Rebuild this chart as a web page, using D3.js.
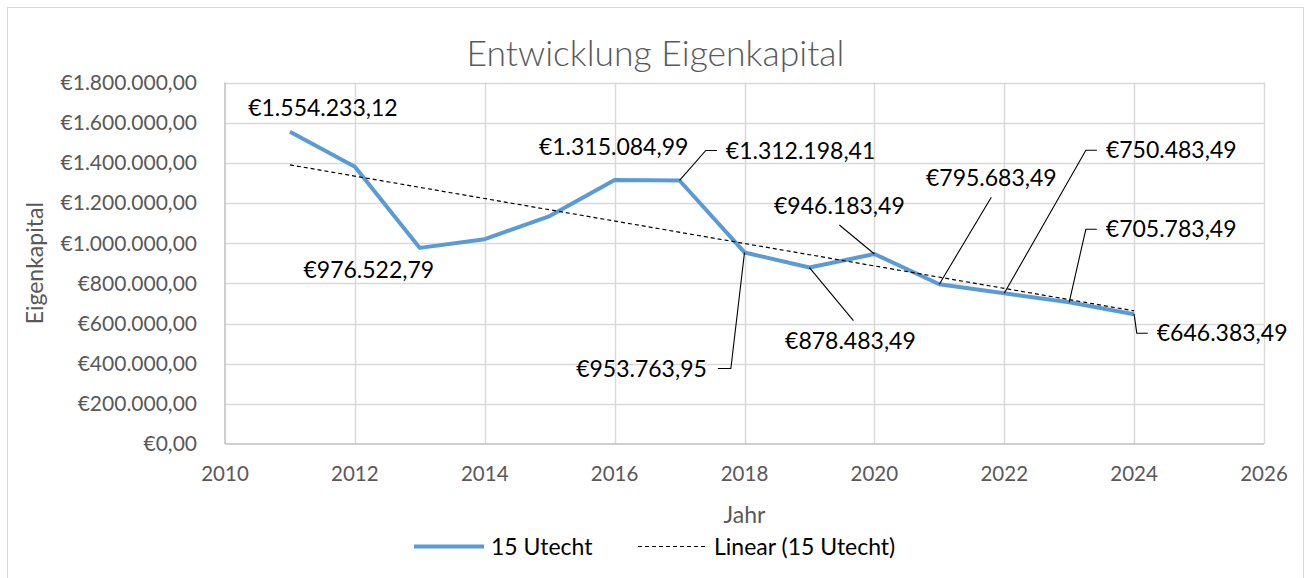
<!DOCTYPE html>
<html><head><meta charset="utf-8">
<script src="https://cdn.jsdelivr.net/npm/d3@7"></script>
<style>body{margin:0;background:#fff}svg{display:block}text{font-family:Lato,"Open Sans",sans-serif}</style>
</head><body>
<svg id="c" width="1309" height="578"></svg>
<script>
const years = [2011,2012,2013,2014,2015,2016,2017,2018,2019,2020,2021,2022,2023,2024];
const values = [1554233.12,1380000,976522.79,1020000,1135000,1315084.99,1312198.41,953763.95,878483.49,946183.49,795683.49,750483.49,705783.49,646383.49];
const labelled = [true,false,true,false,false,true,true,true,true,true,true,true,true,true];
// label placement relative to its point: [dx, dy, leader type]
const labelLayout = [[33,-24,"none"],[0,0,"none"],[-51,22,"none"],[0,0,"none"],[0,0,"none"],[-1,-33,"none"],[121,-30,"right"],[-103,116,"left"],[41,73,"top"],[-35,-48,"bottom"],[52,-106,"bottom"],[167,-143,"right"],[102,-73,"right"],[88,19,"right"]];
const xTicks = [2010,2012,2014,2016,2018,2020,2022,2024,2026];
const yTicks = [0,200000,400000,600000,800000,1000000,1200000,1400000,1600000,1800000];
const title = "Entwicklung Eigenkapital";
const xTitle = "Jahr", yTitle = "Eigenkapital";
const seriesName = "15 Utecht", trendName = "Linear (15 Utecht)";

const loc = d3.formatLocale({decimal:",",thousands:".",grouping:[3],currency:["€",""]});
const fmt = loc.format("$,.2f");

const svg = d3.select("#c");
const x = d3.scaleLinear().domain([2010,2026]).range([225,1264]);
const y = d3.scaleLinear().domain([0,1800000]).range([444,82.5]);

svg.append("rect").attr("x",7.5).attr("y",7.5).attr("width",1296).attr("height",600).attr("fill","#fff").attr("stroke","#d9d9d9");

// gridlines
svg.append("g").selectAll("line").data(yTicks.slice(1)).join("line")
  .attr("x1",x(2010)).attr("x2",x(2026)).attr("y1",d=>Math.round(y(d))+0.5).attr("y2",d=>Math.round(y(d))+0.5)
  .attr("stroke","#d9d9d9").attr("stroke-width",1.5);
svg.append("g").selectAll("line").data(xTicks.slice(1)).join("line")
  .attr("y1",y(0)).attr("y2",y(1800000)).attr("x1",d=>Math.round(x(d))+0.5).attr("x2",d=>Math.round(x(d))+0.5)
  .attr("stroke","#d9d9d9").attr("stroke-width",1.5);
// axes lines
svg.append("line").attr("x1",x(2010)).attr("x2",x(2026)).attr("y1",y(0)).attr("y2",y(0)).attr("stroke","#bfbfbf").attr("stroke-width",1.5);
svg.append("line").attr("x1",x(2010)).attr("x2",x(2010)).attr("y1",y(0)).attr("y2",y(1800000)).attr("stroke","#bfbfbf").attr("stroke-width",1.5);

// tick labels
svg.append("g").selectAll("text").data(yTicks).join("text")
  .attr("x",x(2010)-28).attr("y",d=>y(d)).attr("dy","0.35em").attr("text-anchor","end")
  .attr("font-size",21).attr("fill","#595959").text(d=>fmt(d));
svg.append("g").selectAll("text").data(xTicks).join("text")
  .attr("x",d=>x(d)).attr("y",y(0)+30).attr("dy","0.35em").attr("text-anchor","middle")
  .attr("font-size",20.5).attr("fill","#595959").text(d=>d);

// titles
svg.append("text").attr("x",655.5).attr("y",66).attr("text-anchor","middle").attr("font-size",35.5).attr("font-weight",300).attr("fill","#595959").text(title);
svg.append("text").attr("x",(x(2010)+x(2026))/2).attr("y",515).attr("dy","0.35em").attr("text-anchor","middle").attr("font-size",23).attr("fill","#595959").text(xTitle);
svg.append("text").attr("transform",`translate(35,${(y(0)+y(1800000))/2}) rotate(-90)`).attr("dy","0.35em").attr("text-anchor","middle").attr("font-size",23).attr("fill","#595959").text(yTitle);

// series
const pts = years.map((yr,i)=>({yr, v:values[i], i}));
svg.append("path").datum(pts).attr("fill","none").attr("stroke","#5b9bd5").attr("stroke-width",4).attr("stroke-linejoin","round")
  .attr("d",d3.line().x(d=>x(d.yr)).y(d=>y(d.v)));

// linear trend (least squares of the series)
const n=years.length, mx=d3.mean(years), my=d3.mean(values);
const slope=d3.sum(years.map((t,i)=>(t-mx)*(values[i]-my)))/d3.sum(years.map(t=>(t-mx)**2));
const icpt=my-slope*mx;
const ends=[years[0],years[n-1]];
svg.append("line").attr("x1",x(ends[0])).attr("y1",y(icpt+slope*ends[0])).attr("x2",x(ends[1])).attr("y2",y(icpt+slope*ends[1]))
  .attr("stroke","#000").attr("stroke-width",1.2).attr("stroke-dasharray","4,3");

// data labels + leader lines
const lg = svg.append("g");
pts.filter(d=>labelled[d.i]).forEach(d=>{
  const [dx,dy,type]=labelLayout[d.i];
  const px=x(d.yr), py=y(d.v), lx=px+dx, ly=py+dy;
  const t=lg.append("text").attr("x",lx).attr("y",ly).attr("dy","0.35em").attr("text-anchor","middle")
    .attr("font-size",23).attr("fill","#000").text(fmt(d.v));
  const w=t.node().getComputedTextLength();
  let path=null;
  if(type==="right"){ const e=lx-w/2-9; path=[[px,py],[e-11,ly],[e,ly]]; }
  else if(type==="left"){ const e=lx+w/2+11; path=[[px,py],[e+13,ly],[e,ly]]; }
  else if(type==="top"){ path=[[px,py],[lx+3,ly-20]]; }
  else if(type==="bottom"){ path=[[lx,ly+19],[px,py]]; }
  if(path) lg.append("path").attr("d",d3.line()(path)).attr("fill","none").attr("stroke","#000").attr("stroke-width",1.1);
});

// legend
const leg=svg.append("g");
leg.append("line").attr("x1",414).attr("x2",484).attr("y1",546.5).attr("y2",546.5).attr("stroke","#5b9bd5").attr("stroke-width",4);
leg.append("text").attr("x",491).attr("y",546.5).attr("dy","0.35em").attr("font-size",23).attr("fill","#000").text(seriesName);
leg.append("line").attr("x1",638).attr("x2",705).attr("y1",546.5).attr("y2",546.5).attr("stroke","#000").attr("stroke-width",1.2).attr("stroke-dasharray","4,3");
leg.append("text").attr("x",714).attr("y",546.5).attr("dy","0.35em").attr("font-size",23).attr("fill","#000").text(trendName);
</script>
</body></html>
